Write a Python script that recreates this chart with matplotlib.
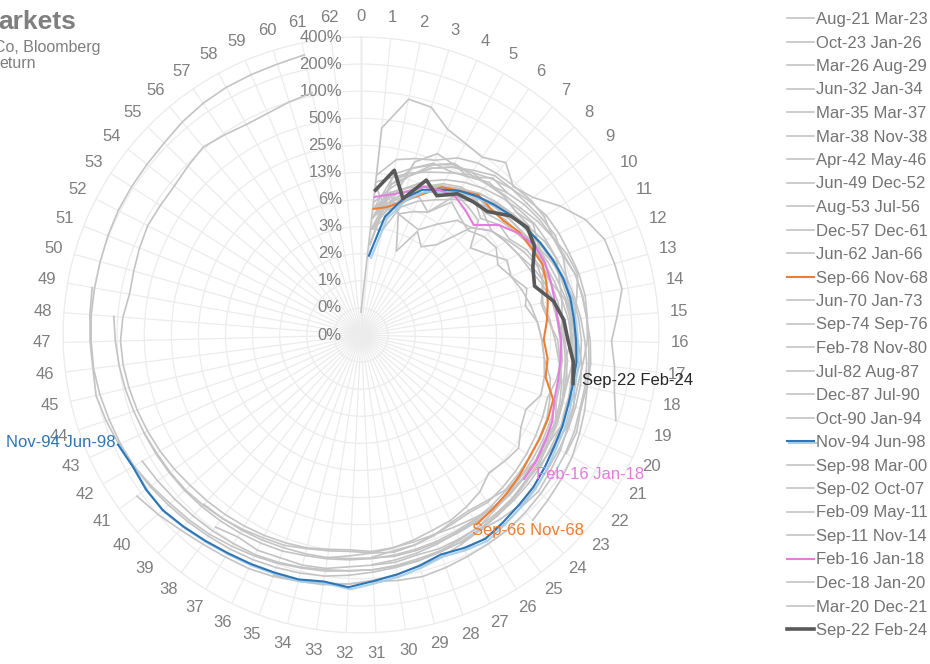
import numpy as np
import matplotlib.pyplot as plt
import matplotlib.patheffects as pe
from matplotlib.transforms import offset_copy

plt.rcParams['font.family'] = ['Liberation Sans', 'DejaVu Sans']

# months around the dial, radial ring labels (log2 scale, 400% at the rim)
n_months = 63
ring_labels = ['0%', '0%', '1%', '2%', '3%', '6%', '13%', '25%', '50%', '100%', '200%', '400%']

# cumulative return (%) per month since the trough
aug21_mar23 = [3, 6, 9, 12, 14, 16, 20, 24, 27, 29, 33, 37, 40, 42, 44, 41, 45, 50, 55]
oct23_jan26 = [5, 7, 5, 4.5, 4.2, 6, 9, 10, 14, 16, 18, 22, 26, 29, 31, 35, 38, 40, 45, 48,
               50, 54, 56, 60, 64, 68, 72]
mar26_aug29 = [3, 5, 8, 10, 13, 15, 18, 17, 20, 23, 27, 30, 33, 36, 40, 43, 46, 48, 52, 55,
               60, 64, 70, 75, 72, 68, 74, 82, 88, 95, 105, 115, 125, 130, 140, 148, 152, 160,
               175, 200, 228]
jun32_jan34 = [0.35, 40, 92, 87, 59, 52, 48, 62, 45, 55, 85, 125, 158, 165, 172, 140, 119, 135,
               151, 190]
mar35_mar37 = [5, 12, 15, 18, 22, 28, 30, 33, 36, 42, 48, 52, 58, 62, 64, 66, 70, 74, 82, 90,
               100, 108, 115, 125]
mar38_nov38 = [9, 5, 20, 30, 28, 26, 37, 36]
apr42_may46 = [4, 6, 9, 12, 15, 18, 22, 25, 28, 30, 33, 38, 42, 48, 52, 55, 56, 52, 50, 54,
               55, 58, 60, 62, 64, 66, 70, 72, 75, 78, 80, 82, 88, 92, 98, 104, 110, 118, 125,
               132, 145, 160, 175, 190, 205, 195, 200, 205, 211]
jun49_dec52 = [4, 7, 10, 12, 14, 16, 19, 22, 24, 26, 28, 30, 24, 22, 25, 28, 32, 38, 42, 45,
               48, 52, 54, 58, 60, 62, 66, 70, 72, 76, 80, 82, 85, 90, 95, 100, 102, 105, 108,
               112, 118, 125]
aug53_jul56 = [3, 6, 8, 12, 15, 18, 22, 25, 28, 32, 38, 42, 46, 50, 55, 60, 66, 70, 72, 78,
               82, 86, 90, 95, 100, 102, 105, 110, 115, 112, 108, 115, 120, 128, 135]
dec57_dec61 = [3, 3, 6, 8, 10, 13, 17, 20, 24, 26, 30, 33, 36, 40, 44, 46, 48, 50, 52, 54,
               50, 48, 46, 50, 52, 48, 46, 45, 50, 54, 52, 50, 52, 55, 60, 62, 66, 70, 74, 78,
               80, 82, 86, 90, 95, 100, 105, 111]
jun62_jan66 = [4, 6, 9, 10, 14, 17, 20, 19, 22, 24, 27, 28, 30, 32, 34, 33, 35, 36, 38, 40,
               42, 44, 46, 45, 48, 50, 52, 54, 56, 58, 60, 62, 64, 66, 70, 72, 74, 76, 78, 80,
               82, 84, 86]
sep66_nov68 = [5.0, 5.5, 6.9, 9.5, 14.5, 17, 21, 20, 21, 24.6, 26, 28.5, 27, 25, 23, 21, 24,
               24.8, 35, 37, 38.5, 40, 44, 48, 52, 57]
jun70_jan73 = [5, 8, 10, 14, 18, 22, 26, 30, 34, 38, 40, 42, 38, 36, 34, 36, 40, 42, 44, 46,
               45, 48, 50, 52, 50, 52, 54, 58, 62, 66, 70]
sep74_sep76 = [10, 12, 14, 20, 26, 32, 40, 42, 44, 48, 52, 50, 46, 44, 46, 50, 58, 62, 64, 66,
               68, 70, 74, 78]
feb78_nov80 = [3, 4, 8, 9, 7, 15, 14, 13, 7, 9, 13, 12, 14, 16, 18, 20, 22, 24, 25, 20, 22, 28,
               26, 24, 30, 34, 38, 40, 44, 48, 52, 56, 62]
jul82_aug87 = [4, 10, 14, 20, 26, 30, 36, 42, 48, 55, 58, 60, 64, 66, 65, 64, 60, 58, 60, 62,
               58, 56, 55, 58, 62, 66, 70, 72, 76, 80, 85, 92, 100, 105, 110, 115, 120, 125,
               132, 140, 150, 160, 168, 175, 185, 193, 195, 198, 198, 200, 205, 210, 212, 215,
               222, 240, 255, 265, 270, 276, 293]
dec87_jul90 = [4, 8, 5, 6, 7, 12, 10, 9, 11, 12, 10, 12, 16, 14, 18, 20, 22, 28, 32, 36, 38,
               40, 42, 44, 40, 38, 40, 46, 50, 52, 58]
oct90_jan94 = [6, 9, 14, 22, 28, 30, 30, 32, 31, 33, 30, 36, 42, 44, 42, 44, 46, 44, 45, 48,
               46, 48, 50, 52, 53, 54, 55, 56, 58, 60, 59, 60, 62, 63, 64, 66, 68, 70, 72]
nov94_jun98 = [1.5, 4.3, 7.5, 11, 13.5, 17, 20, 23, 26.5, 30, 34, 38, 42, 45, 46, 48, 50.6, 51,
               52.6, 56, 58.7, 64, 70, 74, 80, 88, 83, 77, 86, 96, 107, 125, 115, 124, 126,
               130, 135, 144, 156, 170, 171, 165, 179]
sep98_mar00 = [2, 13, 17, 23, 23, 26, 32, 32, 31, 37, 32, 31, 30, 39, 42, 42, 38, 44]
sep02_oct07 = [3, 8, 5, 2, 4, 3, 4, 10, 14, 16, 18, 20, 24, 28, 30, 32, 34, 33, 30, 32, 34,
               36, 38, 40, 42, 40, 42, 45, 46, 48, 50, 48, 50, 54, 56, 58, 60, 62, 64, 66, 70,
               74, 78, 82, 86, 90, 92, 88, 80, 82, 86, 90, 88, 88, 95, 104, 96, 90, 92, 100, 109]
feb09_may11 = [12, 19, 22, 25, 34, 40, 43, 46, 50, 52, 48, 56, 62, 53, 47, 47, 49, 53, 61, 64,
               71, 76, 83, 80, 85, 86, 87]
sep11_nov14 = [3, 5, 6.5, 12, 16, 19, 19, 16, 14, 17, 21, 25, 25, 21, 24, 30, 33, 37, 38, 46,
               44, 48, 49, 51, 55, 62, 64, 66, 65, 70, 71, 74, 82, 85, 84, 88, 83, 93]
feb16_jan18 = [6.8, 7.6, 9, 12, 13.3, 14.2, 12.5, 11, 17.8, 23.7, 29.2, 30.6, 30.3, 30, 30.4,
               32.8, 33.5, 34.5, 36, 42, 45, 49, 51]
dec18_jan20 = [2, 8, 10, 14, 12, 14, 18, 14, 18, 18, 23, 26, 30]
mar20_dec21 = [4, 10, 17, 22, 29, 28, 30, 36, 41, 45, 48, 50, 59, 61, 64, 69, 73, 73, 74, 83, 84]
sep22_feb24 = [8.1, 14.4, 7.5, 14.4, 11.3, 15.5, 16.8, 18, 26, 31, 28.6, 22, 19.7, 29, 35.5, 39,
               46.6, 51]

names = ['Aug-21 Mar-23', 'Oct-23 Jan-26', 'Mar-26 Aug-29', 'Jun-32 Jan-34', 'Mar-35 Mar-37',
         'Mar-38 Nov-38', 'Apr-42 May-46', 'Jun-49 Dec-52', 'Aug-53 Jul-56', 'Dec-57 Dec-61',
         'Jun-62 Jan-66', 'Sep-66 Nov-68', 'Jun-70 Jan-73', 'Sep-74 Sep-76', 'Feb-78 Nov-80',
         'Jul-82 Aug-87', 'Dec-87 Jul-90', 'Oct-90 Jan-94', 'Nov-94 Jun-98', 'Sep-98 Mar-00',
         'Sep-02 Oct-07', 'Feb-09 May-11', 'Sep-11 Nov-14', 'Feb-16 Jan-18', 'Dec-18 Jan-20',
         'Mar-20 Dec-21', 'Sep-22 Feb-24']
series = [aug21_mar23, oct23_jan26, mar26_aug29, jun32_jan34, mar35_mar37, mar38_nov38,
          apr42_may46, jun49_dec52, aug53_jul56, dec57_dec61, jun62_jan66, sep66_nov68,
          jun70_jan73, sep74_sep76, feb78_nov80, jul82_aug87, dec87_jul90, oct90_jan94,
          nov94_jun98, sep98_mar00, sep02_oct07, feb09_may11, sep11_nov14, feb16_jan18,
          dec18_jan20, mar20_dec21, sep22_feb24]
first_month = {'Jun-32 Jan-34': 0}

# highlighted bull markets: colour, width, end label offset (px), alignment, text colour
highlight = {
    'Sep-66 Nov-68': ('#ED7D31', 1.5, (-5, -6), 'left', '#ED7D31'),
    'Nov-94 Jun-98': ('#2E75B6', 1.5, (-3, 2), 'right', '#2E75B6'),
    'Feb-16 Jan-18': ('#E47CE0', 1.5, (12, 4), 'left', '#E47CE0'),
    'Sep-22 Feb-24': ('#595959', 2.6, (9, 3), 'left', '#262626'),
}

grey_txt = '#7f7f7f'
step = 2 * np.pi / n_months

fig = plt.figure(figsize=(9.3, 6.64), dpi=100)
ax = fig.add_axes([63 / 930, 31 / 664, 596 / 930, 596 / 664], projection='polar')
ax.set_theta_zero_location('N')
ax.set_theta_direction(-1)
ax.set_ylim(-9, 2)

ax.set_xticks(np.arange(n_months) * step)
ax.set_xticklabels([str(i) for i in range(n_months)], color=grey_txt, fontsize=12)
ax.tick_params(axis='x', pad=8, length=0)
ax.set_yticks(range(-9, 3))
ax.set_yticklabels([])
ax.grid(color='#ececec', lw=0.9)
ax.spines['polar'].set_color('#ececec')
ax.plot([0, 0], [-9, 2], color='#d4d4d4', lw=1, zorder=1)

lab_tr = offset_copy(ax.transData, fig=fig, x=-19, y=0, units='dots')
for r, lab in zip(range(-9, 3), ring_labels):
    ax.text(0, r, lab, transform=lab_tr, ha='right', va='center', color=grey_txt, fontsize=12)

handles = []
for name, vals in zip(names, series):
    start = first_month.get(name, 1)
    theta = (start + np.arange(len(vals))) * step
    r = np.log2(np.array(vals) / 100.0)
    if name in highlight:
        col, lw, off, ha, tcol = highlight[name]
        effects = None
        if name == 'Nov-94 Jun-98':
            effects = [pe.SimpleLineShadow(offset=(1.5, -1.5), shadow_color='#9fcdea', alpha=0.9),
                       pe.Normal()]
        ln, = ax.plot(theta, r, color=col, lw=lw, zorder=4, label=name, path_effects=effects)
        ax.annotate(name, (theta[-1], r[-1]), xytext=off, textcoords='offset pixels',
                    ha=ha, va='center', color=tcol, fontsize=12, zorder=6)
    else:
        ln, = ax.plot(theta, r, color='#c4c4c4', lw=1.2, zorder=3, label=name)
    handles.append(ln)

fig.legend(handles=handles, loc='upper left', bbox_to_anchor=(787 / 930, 1 - 12 / 664),
           frameon=False, fontsize=12, handlelength=1.6, handletextpad=0.15,
           labelspacing=0.51, borderpad=0, borderaxespad=0, labelcolor='#737373')

fig.text(-2 / 930, 1 - 29 / 664, 'arkets', fontsize=19, fontweight='bold', color=grey_txt)
fig.text(-6 / 930, 1 - 52 / 664, 'Co, Bloomberg', fontsize=11.5, color=grey_txt)
fig.text(-1 / 930, 1 - 68 / 664, 'eturn', fontsize=11.5, color=grey_txt)

fig.savefig('out.png', dpi=100)
